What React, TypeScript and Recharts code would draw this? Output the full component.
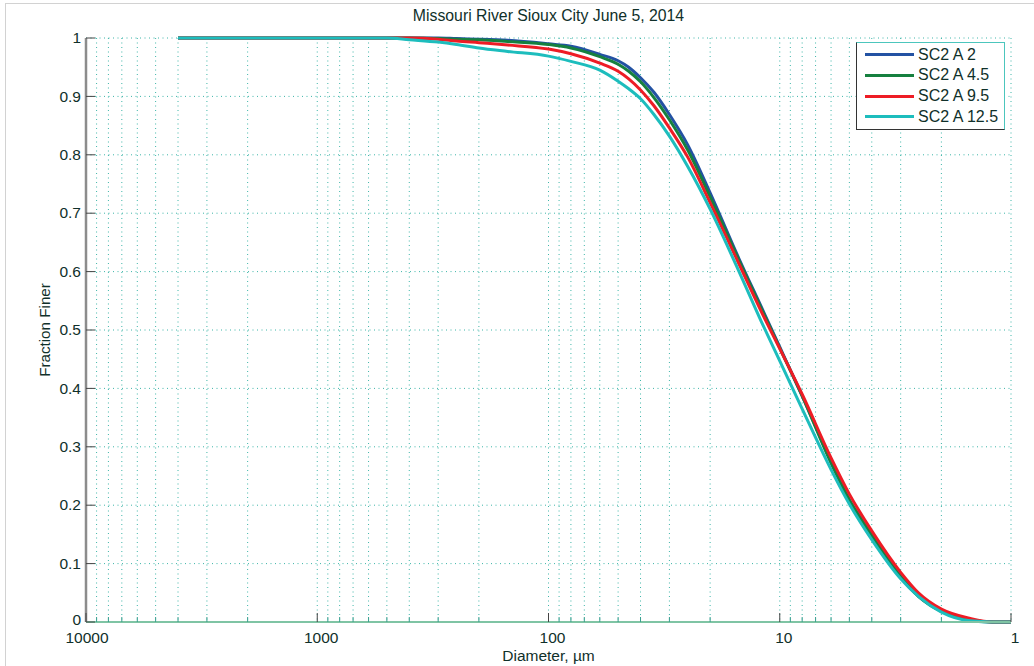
import React from 'react';
import { LineChart, Line, XAxis, YAxis, CartesianGrid } from 'recharts';

const title = 'Missouri River Sioux City June 5, 2014';
const xLabel = 'Diameter, \u00b5m';
const yLabel = 'Fraction Finer';

const diameters = [4000, 1000, 700, 500, 400, 300, 250, 200, 150, 100, 80, 60, 50, 45, 40, 35, 30, 25, 20, 15, 12, 10, 8, 6, 5, 4, 3, 2.5, 2, 1.5, 1.2, 1];

const sc2A2 = [1, 1, 1, 1, 1, 1, 0.999, 0.998, 0.996, 0.99, 0.986, 0.972, 0.961, 0.95, 0.932, 0.907, 0.869, 0.817, 0.735, 0.622, 0.539, 0.471, 0.387, 0.275, 0.209, 0.151, 0.079, 0.044, 0.019, 0.004, 0, 0];
const sc2A45 = [1, 1, 1, 1, 1, 0.999, 0.998, 0.997, 0.994, 0.989, 0.983, 0.968, 0.955, 0.943, 0.925, 0.898, 0.86, 0.808, 0.728, 0.619, 0.536, 0.469, 0.387, 0.272, 0.209, 0.148, 0.077, 0.043, 0.018, 0.003, 0, 0];
const sc2A95 = [1, 1, 1, 1, 1, 0.998, 0.995, 0.992, 0.988, 0.981, 0.973, 0.957, 0.943, 0.93, 0.911, 0.884, 0.846, 0.796, 0.718, 0.613, 0.531, 0.468, 0.39, 0.281, 0.219, 0.156, 0.085, 0.049, 0.022, 0.006, 0, 0];
const sc2A125 = [1, 1, 1, 1, 0.997, 0.993, 0.989, 0.983, 0.977, 0.969, 0.96, 0.945, 0.926, 0.913, 0.896, 0.869, 0.832, 0.78, 0.707, 0.6, 0.514, 0.447, 0.365, 0.261, 0.202, 0.141, 0.074, 0.043, 0.017, 0.002, 0, 0];

const seriesNames = ['SC2 A 2', 'SC2 A 4.5', 'SC2 A 9.5', 'SC2 A 12.5'];
const seriesKeys = ['a2', 'a45', 'a95', 'a125'];
const seriesColors = ['#2352a3', '#16803f', '#ee1c25', '#1dbdbd'];
const seriesValues = [sc2A2, sc2A45, sc2A95, sc2A125];

const xTicks = [1, 2, 3, 4, 5, 6, 7, 8, 9, 10, 20, 30, 40, 50, 60, 70, 80, 90, 100, 200, 300, 400, 500, 600, 700, 800, 900, 1000, 2000, 3000, 4000, 5000, 6000, 7000, 8000, 9000, 10000];
const xMajor = [1, 10, 100, 1000, 10000];
const yTicks = [0, 0.1, 0.2, 0.3, 0.4, 0.5, 0.6, 0.7, 0.8, 0.9, 1];
const yTickLabels = ['0', '0.1', '0.2', '0.3', '0.4', '0.5', '0.6', '0.7', '0.8', '0.9', '1'];

const table = diameters.map((d, i) => {
  const row: any = { d };
  seriesKeys.forEach((k, j) => { row[k] = seriesValues[j][i]; });
  return row;
});

const FONT = '"Liberation Sans", Arial, sans-serif';
const TEXT = '#10302a';

const XTick = (props: any) => {
  const { x, y, payload } = props;
  const v = payload.value;
  const major = xMajor.includes(v);
  return (
    <g>
      <line x1={x} x2={x} y1={y} y2={y - (major ? 9 : 5)} stroke={major ? '#444' : '#3a9f8f'} strokeWidth={1} />
      {major && (
        <text x={x + (v === 10000 ? 1 : 4)} y={y + 20.5} textAnchor="middle" fontSize={15.5} fill={TEXT} fontFamily={FONT}>
          {String(v)}
        </text>
      )}
    </g>
  );
};

const YTick = (props: any) => {
  const { x, y, payload } = props;
  const idx = yTicks.indexOf(payload.value);
  const label = idx >= 0 ? yTickLabels[idx] : String(payload.value);
  const shift = payload.value === 0 ? -2.5 : 0;
  return (
    <g>
      <line x1={x} x2={x + 9} y1={y} y2={y} stroke="#444" strokeWidth={1} />
      <text x={x - 5} y={y + shift} dy="0.34em" textAnchor="end" fontSize={15.5} fill={TEXT} fontFamily={FONT}>
        {label}
      </text>
    </g>
  );
};

export default function App() {
  return (
    <div style={{ position: 'absolute', left: 0, top: 0, width: 1034, height: 666, background: '#fff', overflow: 'hidden', fontFamily: FONT }}>
      <div style={{ position: 'absolute', left: 5, top: 3, width: 1040, height: 680, borderLeft: '1.5px solid #d2d2d2', borderTop: '1.5px solid #d2d2d2' }} />
      <LineChart width={1034} height={666} data={table} margin={{ top: 38, right: 23, left: 0, bottom: 0 }}>
        <CartesianGrid stroke="#3db5a8" strokeDasharray="1 3.5" strokeWidth={1} />
        <XAxis
          dataKey="d"
          type="number"
          scale="log"
          domain={[1, 10000]}
          reversed
          allowDataOverflow
          ticks={xTicks}
          interval={0}
          height={44}
          tickSize={0}
          tickMargin={0}
          tickLine={false}
          tick={<XTick />}
          axisLine={{ stroke: '#7fc4a4', strokeWidth: 2 }}
        />
        <YAxis
          type="number"
          domain={[0, 1]}
          ticks={yTicks}
          interval={0}
          width={86}
          tickSize={0}
          tickMargin={0}
          tickLine={false}
          tick={<YTick />}
          axisLine={{ stroke: '#8c8c8c', strokeWidth: 2.5 }}
        />
        {seriesKeys.map((k, i) => (
          <Line
            key={k}
            dataKey={k}
            name={seriesNames[i]}
            type="monotone"
            stroke={seriesColors[i]}
            strokeWidth={3}
            dot={false}
            activeDot={false}
            isAnimationActive={false}
          />
        ))}
      </LineChart>
      <div style={{ position: 'absolute', left: 86, width: 925, top: 7, lineHeight: '18px', textAlign: 'center', fontSize: 15.8, color: TEXT }}>{title}</div>
      <div style={{ position: 'absolute', left: 86, width: 925, top: 647, lineHeight: '18px', textAlign: 'center', fontSize: 15.5, color: TEXT }}>{xLabel}</div>
      <div style={{ position: 'absolute', left: 45, top: 330, transform: 'translate(-50%, -50%) rotate(-90deg)', whiteSpace: 'nowrap', fontSize: 15.2, lineHeight: '18px', color: TEXT }}>{yLabel}</div>
      <div style={{ position: 'absolute', left: 856, top: 42, width: 147, height: 86, background: '#fff', borderLeft: '1px solid #333', borderBottom: '1px solid #333', borderTop: '1px solid #4cc6bd', borderRight: '1px solid #4cc6bd' }}>
        {seriesNames.map((n, i) => (
          <div key={n} style={{ position: 'absolute', left: 0, top: 11.5 + i * 20.8 - 9, height: 18, width: 147 }}>
            <div style={{ position: 'absolute', left: 8, top: 7.5, width: 49, height: 3, background: seriesColors[i] }} />
            <div style={{ position: 'absolute', left: 61, top: 0, lineHeight: '18px', fontSize: 16, color: TEXT, whiteSpace: 'nowrap' }}>{n}</div>
          </div>
        ))}
      </div>
    </div>
  );
}
